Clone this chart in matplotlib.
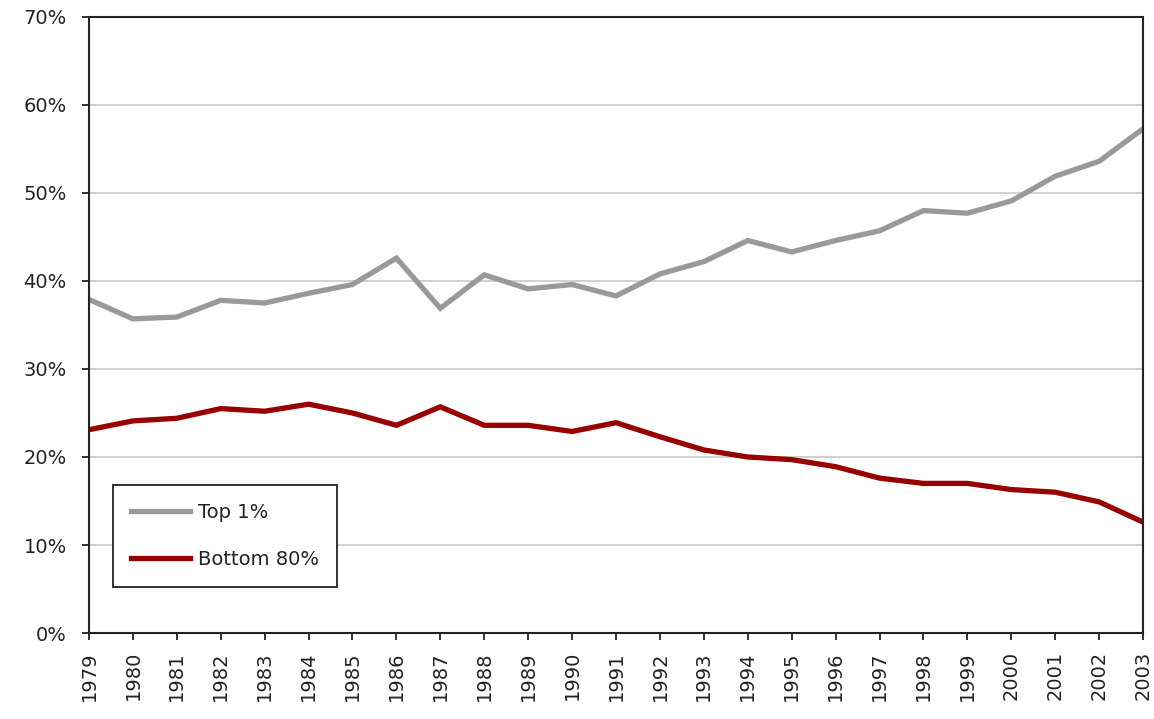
import matplotlib
matplotlib.use("Agg")
import matplotlib.pyplot as plt
from matplotlib.ticker import FuncFormatter

years = list(range(1979, 2004))
top1 = [37.9, 35.7, 35.9, 37.8, 37.5, 38.6, 39.6, 42.6, 36.9, 40.7, 39.1, 39.6, 38.3,
        40.8, 42.2, 44.6, 43.3, 44.6, 45.7, 48.0, 47.7, 49.1, 51.9, 53.6, 57.3]
bottom80 = [23.1, 24.1, 24.4, 25.5, 25.2, 26.0, 25.0, 23.6, 25.7, 23.6, 23.6, 22.9, 23.9,
            22.3, 20.8, 20.0, 19.7, 18.9, 17.6, 17.0, 17.0, 16.3, 16.0, 14.9, 12.6]
yticks = [0, 10, 20, 30, 40, 50, 60, 70]

plt.rcParams['font.family'] = ['DejaVu Sans']

fig = plt.figure(figsize=(11.54, 7.19), dpi=100)
ax = fig.add_axes([0.0771, 0.1196, 0.9134, 0.8568])

ax.plot(years, top1, color='#999999', lw=3.8, label='Top 1%', solid_joinstyle='miter')
ax.plot(years, bottom80, color='#990000', lw=3.8, label='Bottom 80%', solid_joinstyle='miter')

ax.set_xlim(1979, 2003)
ax.set_ylim(0, 70)
ax.set_yticks(yticks)
ax.yaxis.set_major_formatter(FuncFormatter(lambda v, p: f"{int(v)}%"))
ax.set_xticks(years)
ax.set_xticklabels([str(y) for y in years], rotation=90)
ax.grid(axis='y', color='#c8c8c8', lw=1.2)
ax.set_axisbelow(True)
for s in ax.spines.values():
    s.set_color('#222222')
    s.set_linewidth(1.5)
ax.tick_params(axis='both', direction='out', length=5, width=1.3, color='#222222',
               labelsize=14, labelcolor='#222222')
ax.tick_params(axis='x', pad=8)
ax.tick_params(axis='y', pad=11)

leg = ax.legend(loc='lower left', bbox_to_anchor=(0.0228, 0.0747), borderaxespad=0,
                fancybox=False, edgecolor='#222222', framealpha=1, fontsize=14,
                handlelength=3.0, labelspacing=1.4, borderpad=0.95, handletextpad=0.4)
leg.get_frame().set_linewidth(1.3)
for t in leg.get_texts():
    t.set_color('#222222')

fig.savefig('out.png', dpi=100)
